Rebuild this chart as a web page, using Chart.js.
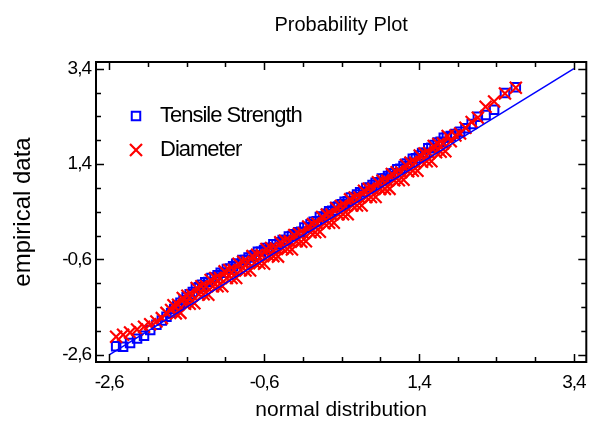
<!DOCTYPE html>
<html>
<head>
<meta charset="utf-8">
<script src="https://cdn.jsdelivr.net/npm/chart.js@4.4.0/dist/chart.umd.min.js"></script>
<style>
  html, body { margin: 0; padding: 0; background: #ffffff; }
  #c { display: block; }
</style>
</head>
<body>
<canvas id="c" width="597" height="423"></canvas>
<script>
// Probability plot: empirical data against normal scores for two samples.
const seriesNames = ['Tensile Strength', 'Diameter'];

// Tensile Strength: normal scores (x) and empirical values (y)
const tensileScores = [
  -2.51, -2.42, -2.33, -2.24, -2.15, -2.07, -1.99, -1.92, -1.86, -1.80,
  -1.76, -1.72, -1.68, -1.64, -1.60, -1.56, -1.52, -1.48, -1.44, -1.40,
  -1.36, -1.32, -1.28, -1.24, -1.20, -1.16, -1.12, -1.08, -1.04, -1.00,
  -0.96, -0.92, -0.88, -0.84, -0.80, -0.76, -0.72, -0.68, -0.64, -0.60,
  -0.56, -0.52, -0.48, -0.44, -0.40, -0.36, -0.32, -0.28, -0.24, -0.20,
  -0.16, -0.12, -0.08, -0.04, 0.00, 0.04, 0.08, 0.12, 0.16, 0.20,
  0.24, 0.28, 0.32, 0.36, 0.40, 0.44, 0.48, 0.52, 0.56, 0.60,
  0.64, 0.68, 0.72, 0.76, 0.80, 0.84, 0.88, 0.92, 0.96, 1.00,
  1.04, 1.08, 1.12, 1.16, 1.20, 1.24, 1.28, 1.32, 1.36, 1.40,
  1.44, 1.48, 1.52, 1.56, 1.60, 1.64, 1.68, 1.72, 1.76,
  1.81, 1.87, 1.93, 2.00, 2.08, 2.16, 2.26, 2.37, 2.51, 2.65
];
const tensileStrength = [
  -2.42, -2.43, -2.35, -2.26, -2.20, -2.08, -1.97, -1.88, -1.80, -1.72,
  -1.64, -1.57, -1.51, -1.45, -1.39, -1.33, -1.28, -1.20, -1.18, -1.13,
  -1.08, -1.07, -0.99, -0.98, -0.93, -0.88, -0.88, -0.80, -0.79, -0.74,
  -0.69, -0.69, -0.61, -0.61, -0.56, -0.52, -0.51, -0.44, -0.44, -0.40,
  -0.36, -0.36, -0.28, -0.28, -0.24, -0.19, -0.19, -0.12, -0.11, -0.07,
  -0.03, -0.02, 0.07, 0.08, 0.14, 0.19, 0.20, 0.29, 0.30, 0.36,
  0.41, 0.42, 0.50, 0.51, 0.56, 0.61, 0.62, 0.70, 0.71, 0.76,
  0.81, 0.82, 0.90, 0.91, 0.96, 1.01, 1.02, 1.10, 1.10, 1.15,
  1.20, 1.21, 1.29, 1.30, 1.36, 1.41, 1.43, 1.51, 1.52, 1.58,
  1.63, 1.64, 1.73, 1.74, 1.80, 1.85, 1.87, 1.95, 1.97,
  1.99, 2.03, 2.08, 2.15, 2.24, 2.39, 2.43, 2.54, 2.89, 3.01
];

// Diameter: normal scores (x) and empirical values (y)
const diameterScores = [
  -2.51, -2.42, -2.33, -2.24, -2.15, -2.07, -1.99, -1.92, -1.86, -1.80,
  -1.77, -1.74, -1.71, -1.68, -1.65, -1.62, -1.59, -1.56, -1.53, -1.50,
  -1.47, -1.44, -1.41, -1.38, -1.35, -1.32, -1.29, -1.26, -1.23, -1.20,
  -1.17, -1.14, -1.11, -1.08, -1.05, -1.02, -0.99, -0.96, -0.93, -0.90,
  -0.87, -0.84, -0.81, -0.78, -0.75, -0.72, -0.69, -0.66, -0.63, -0.60,
  -0.57, -0.54, -0.51, -0.48, -0.45, -0.42, -0.39, -0.36, -0.33, -0.30,
  -0.27, -0.24, -0.21, -0.18, -0.15, -0.12, -0.09, -0.06, -0.03, 0.00,
  0.03, 0.06, 0.09, 0.12, 0.15, 0.18, 0.21, 0.24, 0.27, 0.30,
  0.33, 0.36, 0.39, 0.42, 0.45, 0.48, 0.51, 0.54, 0.57, 0.60,
  0.63, 0.66, 0.69, 0.72, 0.75, 0.78, 0.81, 0.84, 0.87, 0.90,
  0.93, 0.96, 0.99, 1.02, 1.05, 1.08, 1.11, 1.14, 1.17, 1.20,
  1.23, 1.26, 1.29, 1.32, 1.35, 1.38, 1.41, 1.44, 1.47, 1.50,
  1.53, 1.56, 1.59, 1.62, 1.65, 1.68, 1.71, 1.74, 1.77,
  1.81, 1.87, 1.93, 2.00, 2.08, 2.16, 2.26, 2.37, 2.51, 2.65
];
const diameter = [
  -2.22, -2.18, -2.13, -2.07, -2.01, -1.96, -1.90, -1.83, -1.72, -1.66,
  -1.56, -1.73, -1.55, -1.72, -1.41, -1.53, -1.36, -1.53, -1.35, -1.52,
  -1.20, -1.33, -1.16, -1.33, -1.16, -1.34, -1.03, -1.16, -0.99, -1.16,
  -0.99, -1.16, -0.85, -0.99, -0.82, -0.99, -0.82, -0.99, -0.69, -0.82,
  -0.65, -0.83, -0.66, -0.83, -0.53, -0.67, -0.50, -0.68, -0.51, -0.69,
  -0.38, -0.52, -0.36, -0.53, -0.37, -0.54, -0.24, -0.37, -0.21, -0.38,
  -0.22, -0.39, -0.09, -0.22, -0.06, -0.23, -0.05, -0.22, 0.09, -0.03,
  0.14, -0.03, 0.15, -0.02, 0.29, 0.16, 0.34, 0.17, 0.34, 0.17,
  0.48, 0.35, 0.52, 0.35, 0.52, 0.35, 0.66, 0.53, 0.70, 0.53,
  0.70, 0.53, 0.84, 0.71, 0.88, 0.71, 0.88, 0.71, 1.02, 0.88,
  1.05, 0.88, 1.05, 0.88, 1.19, 1.06, 1.23, 1.06, 1.23, 1.07,
  1.38, 1.25, 1.43, 1.26, 1.43, 1.26, 1.58, 1.45, 1.62, 1.46,
  1.63, 1.46, 1.78, 1.65, 1.82, 1.66, 1.83, 1.67, 1.99,
  1.88, 2.00, 2.04, 2.16, 2.28, 2.37, 2.60, 2.71, 2.88, 3.00
];

// Reference line of the normal fit
const fitX = [-2.6, 3.4];
const fitY = [-2.6, 3.4];

// Axis ticks (labelled) and all tick-mark positions
const tickValues = [-2.6, -0.6, 1.4, 3.4];
const tickLabels = ['-2,6', '-0,6', '1,4', '3,4'];
const tickMarks = [-2.6, -2.1, -1.6, -1.1, -0.6, -0.1, 0.4, 0.9, 1.4, 1.9, 2.4, 2.9, 3.4];

const xRange = [-2.77, 3.56];
const yRange = [-2.75, 3.54];

const FONT = "'Liberation Sans', Arial, Helvetica, sans-serif";
const BLUE = '#0000ff';
const RED = '#ff0000';

Chart.defaults.font.family = FONT;
Chart.defaults.color = '#000000';

// Titles use normal spacing; tick labels (drawn after the datasets) are set tighter
const textSpacing = {
  id: 'textSpacing',
  beforeDraw(chart) { chart.ctx.letterSpacing = '0px'; },
  beforeDatasetsDraw(chart) { chart.ctx.letterSpacing = '-1px'; }
};

// Box around the plot area with inward tick marks on all four sides
const frameBox = {
  id: 'frameBox',
  afterDraw(chart) {
    const { ctx, chartArea: a, scales } = chart;
    const major = 8, minor = 5;
    ctx.save();
    ctx.strokeStyle = '#000000';
    ctx.lineWidth = 2;
    ctx.strokeRect(a.left, a.top, a.right - a.left, a.bottom - a.top);
    ctx.lineWidth = 1.5;
    ctx.beginPath();
    tickMarks.forEach(v => {
      const len = tickValues.includes(v) ? major : minor;
      const px = Math.round(scales.x.getPixelForValue(v)) + 0.5;
      ctx.moveTo(px, a.bottom); ctx.lineTo(px, a.bottom - len);
      ctx.moveTo(px, a.top); ctx.lineTo(px, a.top + len);
      const py = Math.round(scales.y.getPixelForValue(v)) + 0.5;
      ctx.moveTo(a.left, py); ctx.lineTo(a.left + len, py);
      ctx.moveTo(a.right, py); ctx.lineTo(a.right - len, py);
    });
    ctx.stroke();
    ctx.restore();
  }
};

// Legend in the upper left of the plot area
const plotLegend = {
  id: 'plotLegend',
  afterDraw(chart) {
    const { ctx, chartArea: a } = chart;
    const entries = seriesNames.map(name => chart.data.datasets.find(ds => ds.label === name));
    const x0 = a.left + 40, y0 = a.top + 54, gap = 34;
    ctx.save();
    ctx.letterSpacing = '-1px';
    entries.forEach((ds, i) => {
      const y = y0 + i * gap;
      ctx.strokeStyle = ds.borderColor;
      ctx.fillStyle = 'rgba(0,0,0,0)';
      ctx.lineWidth = ds.borderWidth;
      Chart.helpers.drawPoint(ctx, { pointStyle: ds.pointStyle, radius: ds.pointRadius, borderWidth: ds.borderWidth, rotation: 0 }, x0, y);
      ctx.fillStyle = '#000000';
      ctx.font = '22px ' + FONT;
      ctx.textBaseline = 'middle';
      ctx.textAlign = 'left';
      ctx.fillText(ds.label, x0 + 24, y);
    });
    ctx.restore();
  }
};

const ctx = document.getElementById('c').getContext('2d');
new Chart(ctx, {
  type: 'scatter',
  data: {
    datasets: [
      {
        label: 'fit',
        type: 'line',
        data: fitX.map((x, i) => ({ x, y: fitY[i] })),
        borderColor: BLUE,
        borderWidth: 1.5,
        pointRadius: 0,
        fill: false,
        order: 0
      },
      {
        label: seriesNames[1],
        data: diameterScores.map((x, i) => ({ x, y: diameter[i] })),
        pointStyle: 'crossRot',
        pointRadius: 8.5,
        borderColor: RED,
        backgroundColor: 'rgba(0,0,0,0)',
        borderWidth: 2.2,
        order: 1
      },
      {
        label: seriesNames[0],
        data: tensileScores.map((x, i) => ({ x, y: tensileStrength[i] })),
        pointStyle: 'rect',
        pointRadius: 6,
        borderColor: BLUE,
        backgroundColor: 'rgba(0,0,0,0)',
        borderWidth: 2,
        order: 2
      }
    ]
  },
  options: {
    responsive: false,
    animation: false,
    devicePixelRatio: 1,
    layout: { padding: { left: 0, right: 7, top: 0, bottom: 0 } },
    plugins: {
      legend: { display: false },
      tooltip: { enabled: false },
      title: {
        display: true,
        text: 'Probability Plot',
        fullSize: false,
        color: '#000000',
        font: { size: 20, weight: 'normal', lineHeight: 1.2 },
        padding: { top: 13, bottom: 25 }
      }
    },
    scales: {
      x: {
        type: 'linear',
        min: xRange[0],
        max: xRange[1],
        grid: { display: false, drawTicks: false },
        border: { display: false },
        afterBuildTicks: s => { s.ticks = tickValues.map(v => ({ value: v })); },
        afterFit: s => { s.height = 61; },
        ticks: {
          callback: (v, i) => tickLabels[i],
          font: { size: 19 },
          color: '#000000',
          padding: 9,
          maxRotation: 0,
          autoSkip: false,
          z: 1
        },
        title: {
          display: true,
          text: 'normal distribution',
          color: '#000000',
          font: { size: 21, lineHeight: 1.2 },
          padding: { top: 0, bottom: 0 }
        }
      },
      y: {
        type: 'linear',
        min: yRange[0],
        max: yRange[1],
        grid: { display: false, drawTicks: false },
        border: { display: false },
        afterBuildTicks: s => { s.ticks = tickValues.map(v => ({ value: v })); },
        afterFit: s => { s.width = 96; },
        ticks: {
          callback: (v, i) => tickLabels[i],
          font: { size: 19 },
          color: '#000000',
          padding: 5,
          autoSkip: false,
          z: 1
        },
        title: {
          display: true,
          text: 'empirical data',
          color: '#000000',
          font: { size: 24, lineHeight: 1.2 },
          padding: { top: 9, bottom: 0 }
        }
      }
    }
  },
  plugins: [textSpacing, frameBox, plotLegend]
});
</script>
</body>
</html>
